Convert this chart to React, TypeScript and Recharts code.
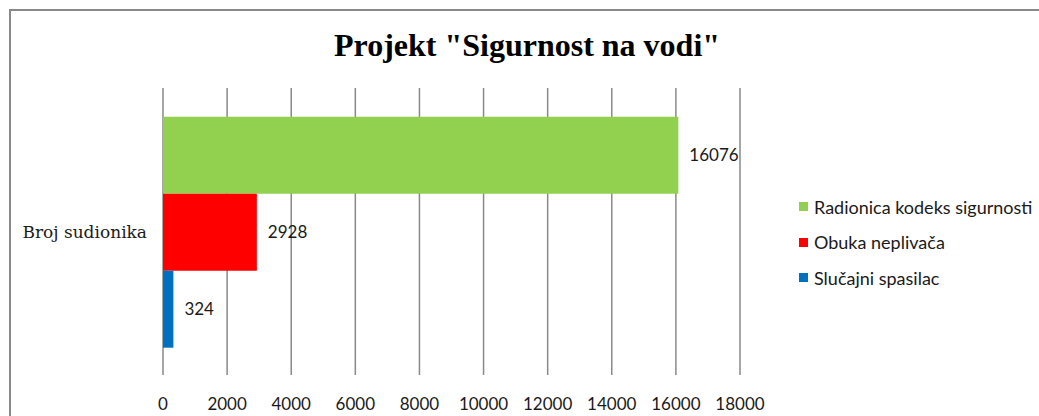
import { Bar, BarChart, CartesianGrid, LabelList, Legend, XAxis, YAxis } from "recharts";

const categories = ["Broj sudionika"];
const seriesNames = ["Radionica kodeks sigurnosti", "Obuka neplivača", "Slučajni spasilac"];
const seriesValues = [16076, 2928, 324];
const seriesColors = ["#92D050", "#FF0000", "#0070C0"];
const xTicks = [0, 2000, 4000, 6000, 8000, 10000, 12000, 14000, 16000, 18000];

const data = categories.map((label) => {
	const row: Record<string, string | number> = { label };
	seriesNames.forEach((name, i) => {
		row[`s${i}`] = seriesValues[i];
	});
	return row;
});

const labelFont = { fontFamily: "Lato", fontSize: 17, fill: "#1a1a1a" };

function LegendContent() {
	return (
		<div style={{ fontFamily: "Lato", fontSize: 18, color: "#1a1a1a" }}>
			{seriesNames.map((name, i) => (
				<div key={name} style={{ display: "flex", alignItems: "center", height: 35.5 }}>
					<span style={{ width: 9, height: 9, background: seriesColors[i], marginRight: 6 }} />
					<span>{name}</span>
				</div>
			))}
		</div>
	);
}

export default function App() {
	return (
		<div style={{ position: "fixed", left: 0, top: 0, width: 1039, height: 416, background: "#fff", overflow: "hidden" }}>
			<div
				style={{
					position: "absolute",
					left: 9,
					top: 9,
					width: 1040,
					height: 420,
					border: "2px solid #898989",
					boxSizing: "border-box",
				}}
			/>
			<div
				style={{
					position: "absolute",
					left: 0,
					width: 1054,
					top: 27,
					textAlign: "center",
					fontFamily: "Liberation Serif",
					fontWeight: "bold",
					fontSize: 32,
					color: "#000",
				}}
			>
				Projekt "Sigurnost na vodi"
			</div>
			<div style={{ position: "absolute", left: 0, top: 0 }}>
				<BarChart
					width={1039}
					height={416}
					data={data}
					layout="vertical"
					margin={{ top: 88, right: 299, left: 0, bottom: 11 }}
					barCategoryGap="10%"
					barGap={0}
				>
					<CartesianGrid horizontal={false} stroke="#898989" strokeWidth={1.5} />
					<XAxis
						type="number"
						domain={[0, 18000]}
						ticks={xTicks}
						interval={0}
						axisLine={false}
						tickLine={false}
						tickMargin={17}
						tick={labelFont}
					/>
					<YAxis
						type="category"
						dataKey="label"
						width={163}
						axisLine={false}
						tickLine={false}
						tickMargin={10}
						tick={{ fontFamily: "DejaVu Serif", fontSize: 17, fill: "#1a1a1a" }}
					/>
					<Legend
						layout="vertical"
						align="center"
						verticalAlign="middle"
						wrapperStyle={{ left: 799, top: 189, width: 240 }}
						content={<LegendContent />}
					/>
					{seriesNames.map((name, i) => (
						<Bar key={name} dataKey={`s${i}`} name={name} fill={seriesColors[i]} isAnimationActive={false}>
							<LabelList dataKey={`s${i}`} position="right" offset={11} style={labelFont} />
						</Bar>
					))}
				</BarChart>
			</div>
		</div>
	);
}
